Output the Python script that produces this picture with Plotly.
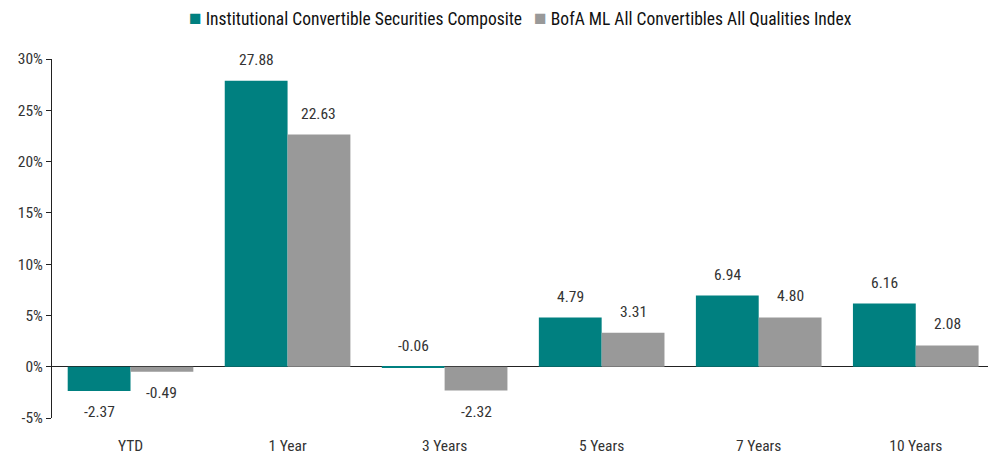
import plotly.graph_objects as go

categories = ["YTD", "1 Year", "3 Years", "5 Years", "7 Years", "10 Years"]
composite = [-2.37, 27.88, -0.06, 4.79, 6.94, 6.16]
index_vals = [-0.49, 22.63, -2.32, 3.31, 4.80, 2.08]
series_names = ["Institutional Convertible Securities Composite",
                "BofA ML All Convertibles All Qualities Index"]
y_ticks = [-5, 0, 5, 10, 15, 20, 25, 30]
y_tick_text = ["-5%", "0%", "5%", "10%", "15%", "20%", "25%", "30%"]

FONT = "Roboto Condensed, Liberation Sans, sans-serif"
TEAL = "#008080"
GRAY = "#999999"
TXT = "#333333"
colors = [TEAL, GRAY]

fig = go.Figure()
for name, vals, color, off in [(series_names[0], composite, TEAL, -0.2),
                               (series_names[1], index_vals, GRAY, 0.2)]:
    fig.add_trace(go.Bar(
        x=categories, y=vals, name=name, marker=dict(color=color, line=dict(width=0)),
        width=0.4, showlegend=False,
    ))
    # value labels: above the bar unless clearly negative
    for i, v in enumerate(vals):
        above = v > -0.1
        fig.add_annotation(
            x=i + off, y=max(v, 0) if above else v, xref="x", yref="y",
            text=f"{v:.2f}", showarrow=False,
            yshift=21 if above else -21,
            font=dict(family=FONT, size=15.5, color=TXT),
        )

# legend drawn as a single centred line of text with coloured squares
legend_text = "   ".join(
    f'<span style="color:{c};font-size:21px">■</span> {n}' for c, n in zip(colors, series_names)
)
fig.add_annotation(
    x=0.5, y=1.114, xref="paper", yref="paper", xanchor="center", yanchor="middle",
    text=legend_text, showarrow=False,
    font=dict(family=FONT, size=17.5, color="#111111"),
)

fig.update_layout(
    width=988, height=453,
    margin=dict(l=52, r=0, t=59, b=35),
    paper_bgcolor="white", plot_bgcolor="white",
    barmode="group", bargap=0.2, bargroupgap=0,
    font=dict(family=FONT, size=15.5, color=TXT),
    showlegend=False,
    xaxis=dict(range=[-0.5, 5.46], showline=False, showgrid=False, ticks="",
               tickfont=dict(family=FONT, size=15.5, color=TXT),
               ticklabelstandoff=16, zeroline=False, automargin=False),
    yaxis=dict(range=[-5, 30], tickvals=y_ticks, ticktext=y_tick_text,
               showgrid=False, showline=True, linecolor="#222222", linewidth=1,
               ticks="outside", ticklen=5, tickcolor="#222222",
               zeroline=True, zerolinecolor="#222222", zerolinewidth=1,
               tickfont=dict(family=FONT, size=15.5, color=TXT), automargin=False),
)

fig.write_html("out.html")
